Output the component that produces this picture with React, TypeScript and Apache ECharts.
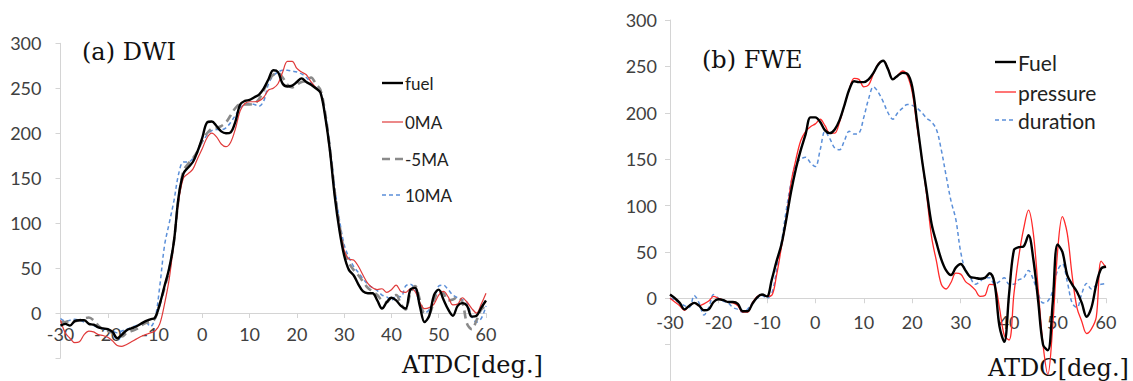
import React, { useEffect, useRef } from "react";
import * as echarts from "echarts";

// crank angle samples, 1 degree apart
const DEG: number[] = Array.from({ length: 91 }, (_, i) => i - 30);

// (a) DWI
const fuelA = [
  -14, -12, -14, -9, -8, -8, -12, -13, -16, -17, -18, -21, -28, -24, -19, -17, -15, -12, -9, -7,
  -5, 10, 30, 50, 80, 130, 155, 162, 168, 180, 195, 212, 213, 208, 202, 200, 201, 213, 232, 236,
  237, 240, 243, 250, 260, 270, 268, 255, 252, 253, 257, 261, 257, 254, 250, 245, 218, 180, 130, 92,
  64, 48, 42, 32, 24, 22, 22, 14, 5, 12, 17, 14, 8, 5, 26, 28, 8, -10, -3, 20,
  26, 15, 4, -3, 8, 11, 8, -4, -3, 6, 14,
];
const ma0 = [
  -8, -22, -28, -33, -32, -24, -20, -21, -24, -25, -27, -31, -36, -37, -35, -32, -29, -26, -24, -22,
  -20, -12, 10, 38, 80, 125, 150, 155, 160, 172, 183, 195, 200, 196, 188, 185, 190, 205, 225, 233,
  235, 235, 236, 240, 248, 250, 255, 268, 280, 280, 272, 268, 265, 257, 251, 245, 218, 180, 132, 95,
  70, 60, 59, 52, 42, 33, 28, 26, 27, 23, 26, 31, 24, 23, 27, 24, 12, 5, 6, 10,
  20, 24, 18, 9, 10, 17, 12, 5, 0, 10, 22,
];
const maMinus5 = [
  -10, -10, -9, -9, -8, -6, -5, -8, -14, -18, -20, -22, -25, -26, -22, -20, -18, -14, -11, -10,
  -6, 10, 28, 48, 80, 128, 158, 166, 172, 180, 192, 200, 205, 206, 208, 212, 220, 228, 232, 232,
  232, 233, 238, 248, 258, 265, 267, 262, 254, 251, 254, 257, 258, 262, 255, 248, 222, 182, 135, 98,
  70, 56, 48, 42, 35, 28, 24, 20, 14, 12, 18, 20, 10, 4, 22, 30, 15, 0, 0, 14,
  24, 22, 14, 15, 18, 12, -12, -18, -8, 4, 8,
];
const ma10 = [
  -6, -9, -8, -7, -8, -10, -12, -14, -16, -18, -19, -20, -22, -20, -18, -16, -14, -12, -10, -15,
  -6, 30, 75, 100, 125, 155, 168, 168, 172, 180, 190, 198, 203, 204, 204, 206, 212, 220, 228, 232,
  233, 232, 230, 236, 255, 264, 268, 270, 270, 269, 268, 266, 262, 256, 251, 246, 222, 185, 140, 104,
  76, 62, 52, 45, 38, 32, 28, 25, 20, 18, 14, 19, 18, 30, 32, 26, 10, 0, 4, 15,
  30, 31, 26, 20, 17, 15, 12, -4, -10, -6, 8,
];

// (b) FWE
const fuelB = [
  4, 0, -5, -12, -8, -5, -8, -13, -12, -4, -1, -2, -4, -4, -6, -14, -14, -6, 1, 4,
  2, 20, 40, 58, 85, 115, 140, 160, 177, 195, 195, 190, 181, 178, 182, 192, 208, 225, 234, 233,
  233, 236, 243, 252, 256, 247, 236, 240, 243, 242, 228, 190, 150, 115, 80, 60, 42, 30, 25, 33,
  37, 30, 23, 22, 21, 22, 27, 16, -30, -47, 5, 52, 55, 56, 68, 42, -3, -50, -56, -5,
  58, 50, 25, 15, 7, -5, -20, -10, 15, 32, 34,
];
const pressure = [
  0, -4, -8, -13, -8, -5, -8, -6, -3, 2, 0, -2, -4, -5, -8, -15, -15, -5, 2, 4,
  2, 3, 25, 55, 85, 125, 150, 170, 180, 185, 188, 193, 186, 178, 178, 190, 208, 225, 237, 236,
  228, 230, 242, 253, 256, 248, 236, 240, 245, 240, 222, 185, 150, 110, 66, 40, 15, 10, 17, 27,
  26, 18, 14, 9, 2, 3, 15, 14, -10, -40, -45, 5, 45, 75, 95, 70, 10, -50, -82, -30,
  50, 88, 70, 25, -10, -25, -38, -33, -20, 40, 33,
];
const duration = [
  0, -2, -5, -8, -10, 3, -5, -18, -10, 4, 0, -3, -5, -10, -12, -15, -12, -5, 0, 3,
  0, 5, 30, 60, 95, 125, 145, 150, 152, 146, 142, 160, 180, 172, 162, 160, 170, 180, 177, 178,
  195, 215, 228, 222, 212, 200, 193, 200, 205, 209, 208, 205, 200, 194, 190, 182, 160, 132, 105, 85,
  50, 30, 22, 15, 18, 22, 22, 15, 18, 22, 15, 15, 20, 22, 30, 20, 5, -5, -3, 8,
  30, 37, 18, -5, -10, 5, 16, 10, 14, 15, 16,
];

const NAMES_A = ["fuel", "0MA", "-5MA", "10MA"];
const NAMES_B = ["Fuel", "pressure", "duration"];

const Y_MAX = 300;
const Y_STEP = 50;
const X_MIN = -30;
const X_MAX = 60;
const X_STEP = 10;

const pairs = (ys: number[]) => DEG.map((d, i) => [d, ys[i]]);

const TICK_FONT = "Lato, 'Open Sans', sans-serif";
const SERIF = "'DejaVu Serif', serif";

// chart canvas is a little taller than the visible page; panel (b)'s axis runs off the bottom
const W = 1133;
const H = 391;
const VISIBLE_H = 381;

type Sty = { color: string; width: number; dash: number[] | null };
const STY_A: Sty[] = [
  { color: "#000000", width: 2.4, dash: null },
  { color: "#e03a3a", width: 1.2, dash: null },
  { color: "#8a8a8a", width: 2.6, dash: [8, 5] },
  { color: "#5b8fd9", width: 1.5, dash: [4, 3] },
];
const STY_B: Sty[] = [
  { color: "#000000", width: 2.4, dash: null },
  { color: "#ff2a2a", width: 1.3, dash: null },
  { color: "#5b8fd9", width: 1.5, dash: [4, 3] },
];

export default function App() {
  const ref = useRef<HTMLDivElement>(null);

  useEffect(() => {
    if (!ref.current) return;
    const chart = echarts.init(ref.current, undefined, { renderer: "svg" });

    const axisLine = { lineStyle: { color: "#d4d4d4", width: 1 } };
    const axisTick = { lineStyle: { color: "#d4d4d4" }, length: 5 };

    // x axis drawn where y = 0 (moved up from the grid's bottom edge)
    const xAxis = (gridIndex: number, offset: number, margin: number) => ({
      type: "value",
      gridIndex,
      min: X_MIN,
      max: X_MAX,
      interval: X_STEP,
      position: "bottom",
      offset,
      axisLine: { ...axisLine, onZero: false },
      axisTick,
      splitLine: { show: false },
      axisLabel: { color: "#404040", fontSize: 18, fontFamily: TICK_FONT, margin },
    });
    // y axis stays on the left edge of its grid
    const yAxis = (gridIndex: number, min: number, margin: number) => ({
      type: "value",
      gridIndex,
      min,
      max: Y_MAX,
      interval: Y_STEP,
      position: "left",
      axisLine: { show: true, onZero: false, ...axisLine },
      axisTick: { show: true, ...axisTick },
      splitLine: { show: false },
      axisLabel: {
        color: "#404040",
        fontSize: 18,
        fontFamily: TICK_FONT,
        margin,
        formatter: (v: number) => (v < 0 ? "" : String(v)),
      },
    });

    const line = (name: string, idx: number, ys: number[], s: Sty, z: number) => ({
      name,
      type: "line",
      xAxisIndex: idx,
      yAxisIndex: idx,
      data: pairs(ys),
      smooth: 0.35,
      showSymbol: false,
      symbol: "none",
      z,
      lineStyle: { color: s.color, width: s.width, type: s.dash ?? "solid" },
    });

    const legendItems = (
      names: string[],
      sty: Sty[],
      x0: number,
      len: number,
      ys: number[],
      fontSize: number
    ) =>
      names.flatMap((n, i) => [
        {
          type: "line",
          shape: { x1: x0, y1: ys[i], x2: x0 + len, y2: ys[i] },
          style: { stroke: sty[i].color, lineWidth: sty[i].width, lineDash: sty[i].dash ?? undefined },
        },
        {
          type: "text",
          x: x0 + len + 2,
          y: ys[i],
          style: {
            text: n,
            font: `${fontSize}px ${TICK_FONT}`,
            fill: "#222",
            verticalAlign: "middle",
          },
        },
      ]);

    const caption = (text: string, x: number, y: number, size: number) => ({
      type: "text",
      x,
      y,
      style: { text, font: `${size}px ${SERIF}`, fill: "#111", verticalAlign: "middle" },
    });

    // grid (a): 300 at y=43.3, -50 at y=358; grid (b): 300 at y=20, -100 at y=391
    chart.setOption({
      animation: false,
      backgroundColor: "#ffffff",
      grid: [
        { left: 60.5, right: W - 486, top: 43.3, bottom: H - 358 },
        { left: 670, right: W - 1106, top: 20, bottom: 0 },
      ],
      xAxis: [xAxis(0, -45, 12), xAxis(1, -92.75, 15)],
      yAxis: [yAxis(0, -50, 19), yAxis(1, -100, 13)],
      graphic: [
        caption("(a) DWI", 82, 52, 24),
        caption("(b) FWE", 702, 60, 24),
        caption("ATDC[deg.]", 402, 365, 24),
        caption("ATDC[deg.]", 988, 368, 24),
        ...legendItems(NAMES_A, STY_A, 382, 21, [83, 122, 159, 195], 17),
        ...legendItems(NAMES_B, STY_B, 995, 21, [62, 92, 120], 21),
      ],
      series: [
        line(NAMES_A[3], 0, ma10, STY_A[3], 2),
        line(NAMES_A[2], 0, maMinus5, STY_A[2], 3),
        line(NAMES_A[1], 0, ma0, STY_A[1], 4),
        line(NAMES_A[0], 0, fuelA, STY_A[0], 5),
        line(NAMES_B[2], 1, duration, STY_B[2], 2),
        line(NAMES_B[1], 1, pressure, STY_B[1], 3),
        line(NAMES_B[0], 1, fuelB, STY_B[0], 4),
      ],
    });

    return () => chart.dispose();
  }, []);

  return (
    <div
      style={{
        position: "absolute",
        left: 0,
        top: 0,
        width: W,
        height: VISIBLE_H,
        overflow: "hidden",
        background: "#fff",
      }}
    >
      <div ref={ref} style={{ width: W, height: H }} />
    </div>
  );
}
